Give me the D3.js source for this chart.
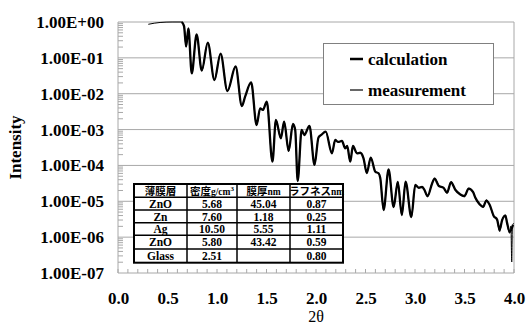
<!DOCTYPE html>
<html>
<head>
<meta charset="utf-8">
<script src="https://cdn.jsdelivr.net/npm/d3@7"></script>
<style>
  html, body { margin: 0; padding: 0; background: #fff; }
  svg { display: block; }
</style>
</head>
<body>
<div id="chart-container"></div>
<script>
// measured reflectivity (2θ in degrees, intensity)
const measTheta = [0.306, 0.425, 0.546, 0.647, 0.667, 0.688, 0.711, 0.745, 0.794, 0.846,
  0.907, 0.974, 1.036, 1.105, 1.188, 1.251, 1.284, 1.345, 1.400, 1.436,
  1.463, 1.503, 1.560, 1.595, 1.645, 1.678, 1.724, 1.767, 1.790, 1.815,
  1.855, 1.881, 1.934, 1.985, 2.025, 2.053, 2.098, 2.161, 2.194, 2.224,
  2.262, 2.295, 2.315, 2.346, 2.373, 2.414, 2.447, 2.480, 2.513, 2.553,
  2.599, 2.632, 2.649, 2.683, 2.733, 2.784, 2.826, 2.867, 2.905, 2.963,
  3.003, 3.036, 3.071, 3.094, 3.127, 3.172, 3.198, 3.239, 3.289, 3.324,
  3.364, 3.407, 3.458, 3.499, 3.542, 3.587, 3.610, 3.653, 3.688, 3.721,
  3.754, 3.795, 3.829, 3.855, 3.880, 3.913, 3.930, 3.956, 3.969, 3.977,
  3.984, 3.999];
const measIntensity = [0.863, 0.97, 1.0, 1.0, 0.77, 0.205, 0.667, 0.037, 0.448, 0.0444,
  0.265, 0.0241, 0.132, 0.0119, 0.0574, 0.00455, 0.00826, 0.0206, 0.00134, 0.00392,
  0.00352, 0.00599, 1.27e-4, 1.85e-3, 5.71e-4, 1.66e-3, 2.53e-4, 1.43e-3, 9.73e-4, 3.68e-5,
  9.73e-4, 7.06e-4, 1.26e-3, 1.03e-4, 6.01e-4, 7.06e-4, 8.73e-4, 2.18e-4, 5.12e-4, 4.51e-4,
  4.81e-4, 3.01e-4, 3.48e-4, 1.27e-4, 3.48e-4, 2.18e-4, 2.26e-4, 1.58e-4, 6.15e-5, 1.66e-4,
  6.68e-5, 6.04e-5, 4.47e-5, 5.72e-6, 7.71e-5, 6.93e-6, 3.45e-5, 4.15e-6, 3.52e-5, 3.65e-6,
  2.85e-5, 2.31e-5, 2.55e-5, 2.07e-5, 1.34e-5, 3.18e-5, 4.38e-5, 2.85e-5, 2.31e-5, 1.67e-5,
  3.52e-5, 2.07e-5, 1.50e-5, 1.34e-5, 2.31e-5, 1.85e-5, 1.21e-5, 7.89e-6, 6.80e-6, 1.09e-5,
  7.89e-6, 3.72e-6, 3.01e-6, 1.42e-6, 3.01e-6, 4.15e-6, 2.43e-6, 1.28e-6, 2.05e-6, 2.03e-7,
  2.05e-6, 2.48e-6];

// simulated curve
const calcTheta = [0.644, 0.667, 0.688, 0.711, 0.745, 0.794, 0.846,
  0.907, 0.974, 1.036, 1.105, 1.188, 1.251, 1.284, 1.345, 1.400, 1.436,
  1.463, 1.503, 1.560, 1.595, 1.645, 1.678, 1.724, 1.767, 1.790, 1.815,
  1.855, 1.881, 1.934, 1.985, 2.025, 2.053, 2.098, 2.161, 2.194, 2.224,
  2.262, 2.295, 2.315, 2.346, 2.373, 2.414, 2.447, 2.480, 2.513, 2.553,
  2.599, 2.632, 2.649, 2.683, 2.733, 2.784, 2.826, 2.867, 2.905, 2.963,
  3.003, 3.036, 3.071, 3.094, 3.127, 3.172, 3.198, 3.239, 3.289, 3.324,
  3.364, 3.407, 3.458, 3.499, 3.542, 3.587, 3.610, 3.653, 3.688, 3.721,
  3.754, 3.795, 3.829, 3.855, 3.880, 3.913, 3.930, 3.956, 3.990];
const calcIntensity = [1.0, 0.77, 0.205, 0.667, 0.037, 0.448, 0.0444,
  0.265, 0.0241, 0.132, 0.0119, 0.0574, 0.00455, 0.00826, 0.0206, 0.00134, 0.00392,
  0.00352, 0.00599, 1.27e-4, 1.85e-3, 5.71e-4, 1.66e-3, 2.53e-4, 1.43e-3, 9.73e-4, 3.68e-5,
  9.73e-4, 7.06e-4, 1.26e-3, 1.03e-4, 6.01e-4, 7.06e-4, 8.73e-4, 2.18e-4, 5.12e-4, 4.51e-4,
  4.81e-4, 3.01e-4, 3.48e-4, 1.27e-4, 3.48e-4, 2.18e-4, 2.26e-4, 1.58e-4, 6.15e-5, 1.66e-4,
  6.68e-5, 6.04e-5, 4.47e-5, 5.72e-6, 7.71e-5, 6.93e-6, 3.45e-5, 4.15e-6, 3.52e-5, 3.65e-6,
  2.85e-5, 2.40e-5, 2.50e-5, 2.10e-5, 1.40e-5, 3.10e-5, 4.30e-5, 2.70e-5, 2.35e-5, 1.75e-5,
  3.40e-5, 2.10e-5, 1.55e-5, 1.40e-5, 2.25e-5, 1.80e-5, 1.25e-5, 8.30e-6, 7.00e-6, 1.05e-5,
  8.00e-6, 3.90e-6, 3.10e-6, 1.60e-6, 3.00e-6, 4.00e-6, 2.50e-6, 1.40e-6, 2.20e-6];

const yTickValues = [1, 1e-1, 1e-2, 1e-3, 1e-4, 1e-5, 1e-6, 1e-7];
const xTickValues = [0, 0.5, 1, 1.5, 2, 2.5, 3, 3.5, 4];

// film parameters table
const tableHeader = ["薄膜層", "密度", "膜厚", "ラフネス"];
const layerNames = ["ZnO", "Zn", "Ag", "ZnO", "Glass"];
const densities = ["5.68", "7.60", "10.50", "5.80", "2.51"];
const thicknesses = ["45.04", "1.18", "5.55", "43.42", ""];
const roughnesses = ["0.87", "0.25", "1.11", "0.59", "0.80"];

const legendLabels = ["calculation", "measurement"];

function drawChart() {
  const W = 526, H = 325;
  const left = 118, right = 514, top = 22, bottom = 273;
  const serif = "'Liberation Serif','Times New Roman',serif";
  const grid = "#a8a8a8";

  const svg = d3.select("#chart-container").append("svg")
    .attr("width", W).attr("height", H);

  const x = d3.scaleLinear().domain([0, 4]).range([left, right]);
  const y = d3.scaleLog().domain([1e-7, 1]).range([bottom, top]);

  // horizontal gridlines
  svg.append("g").selectAll("line").data(yTickValues).join("line")
    .attr("x1", left).attr("x2", right)
    .attr("y1", (d) => y(d)).attr("y2", (d) => y(d))
    .attr("stroke", grid).attr("stroke-width", 1);

  // frame: left, right
  svg.append("line").attr("x1", left).attr("x2", left).attr("y1", top).attr("y2", bottom)
    .attr("stroke", grid);
  svg.append("line").attr("x1", right).attr("x2", right).attr("y1", top).attr("y2", bottom)
    .attr("stroke", grid);

  // minor log ticks inside the left axis
  const minor = [];
  for (let e = -7; e < 0; e++) for (let m = 2; m <= 9; m++) minor.push(m * Math.pow(10, e));
  svg.append("g").selectAll("line").data(minor).join("line")
    .attr("x1", left).attr("x2", left + 5)
    .attr("y1", (d) => y(d)).attr("y2", (d) => y(d))
    .attr("stroke", grid);

  // x ticks every 0.1, pointing up
  const xMinor = d3.range(0, 41).map((i) => i / 10);
  svg.append("g").selectAll("line").data(xMinor).join("line")
    .attr("x1", (d) => x(d)).attr("x2", (d) => x(d))
    .attr("y1", bottom).attr("y2", bottom - 4)
    .attr("stroke", grid);

  // y axis labels
  const yAxis = svg.append("g")
    .attr("transform", `translate(${left - 14},0)`)
    .call(d3.axisLeft(y).tickValues(yTickValues).tickSize(0).tickPadding(0)
      .tickFormat((d) => {
        const e = Math.round(Math.log10(d));
        return "1.00E" + (e < 0 ? "-" : "+") + String(Math.abs(e)).padStart(2, "0");
      }));
  yAxis.select(".domain").remove();
  yAxis.selectAll("text")
    .style("font-family", serif).style("font-size", "17px").style("font-weight", "bold")
    .attr("fill", "#000");

  // x axis labels
  const xAxis = svg.append("g")
    .attr("transform", `translate(0,${bottom + 19})`)
    .call(d3.axisBottom(x).tickValues(xTickValues).tickSize(0).tickPadding(0)
      .tickFormat(d3.format(".1f")));
  xAxis.select(".domain").remove();
  xAxis.selectAll("text")
    .style("font-family", serif).style("font-size", "17px").style("font-weight", "bold")
    .attr("fill", "#000");

  // axis titles
  svg.append("text")
    .attr("transform", `translate(21,${(top + bottom) / 2}) rotate(-90)`)
    .attr("text-anchor", "middle")
    .style("font-family", serif).style("font-size", "17px").style("font-weight", "bold")
    .text("Intensity");
  svg.append("text")
    .attr("x", (left + right) / 2).attr("y", 322)
    .attr("text-anchor", "middle")
    .style("font-family", serif).style("font-size", "16px")
    .text("2θ");

  // curves
  const line = d3.line().x((d) => x(d[0])).y((d) => y(d[1])).curve(d3.curveMonotoneX);
  svg.append("path")
    .datum(calcTheta.map((t, i) => [t, calcIntensity[i]]))
    .attr("fill", "none").attr("stroke", "#000").attr("stroke-width", 2.3)
    .attr("stroke-linejoin", "round")
    .attr("d", line);
  svg.append("path")
    .datum(measTheta.map((t, i) => [t, measIntensity[i]]))
    .attr("fill", "none").attr("stroke", "#000").attr("stroke-width", 1)
    .attr("d", line);

  // legend
  const lg = svg.append("g");
  lg.append("rect").attr("x", 323.5).attr("y", 43.5).attr("width", 170).attr("height", 61)
    .attr("fill", "#fff").attr("stroke", "#808080");
  legendLabels.forEach((lab, i) => {
    const yy = i === 0 ? 65 : 96;
    lg.append("line").attr("x1", 350).attr("x2", 363).attr("y1", yy - 6).attr("y2", yy - 6)
      .attr("stroke", "#000").attr("stroke-width", i === 0 ? 2.5 : 1.2);
    lg.append("text").attr("x", 368).attr("y", yy)
      .style("font-family", serif).style("font-size", "17px").style("font-weight", "bold")
      .text(lab);
  });

  // parameter table
  const colX = [134, 187, 237, 290, 343];
  const rowY = [184, 197.3, 210, 222.7, 235.3, 249, 262.7];
  const tg = svg.append("g");
  tg.append("rect").attr("x", colX[0]).attr("y", rowY[0])
    .attr("width", colX[4] - colX[0]).attr("height", rowY[6] - rowY[0])
    .attr("fill", "#fff").attr("stroke", "#000").attr("stroke-width", 2);
  colX.slice(1, 4).forEach((cx) => tg.append("line")
    .attr("x1", cx).attr("x2", cx).attr("y1", rowY[0]).attr("y2", rowY[6])
    .attr("stroke", "#000").attr("stroke-width", 1.5));
  rowY.slice(1, 6).forEach((ry) => tg.append("line")
    .attr("x1", colX[0]).attr("x2", colX[4]).attr("y1", ry).attr("y2", ry)
    .attr("stroke", "#000").attr("stroke-width", 1.5));

  const cjk = "'Liberation Serif','Noto Sans CJK JP',serif";
  const units = ["", "g/cm", "nm", "nm"];
  tableHeader.forEach((h, c) => {
    const t = tg.append("text")
      .attr("x", (colX[c] + colX[c + 1]) / 2).attr("y", rowY[0] + 10.5)
      .attr("text-anchor", "middle")
      .style("font-family", cjk).style("font-size", "10.5px").style("font-weight", "bold");
    t.append("tspan").text(h);
    if (units[c]) t.append("tspan").style("font-size", "9.5px").text(units[c]);
    if (c === 1) t.append("tspan").attr("dy", -4).style("font-size", "7px").text("3");
  });

  const columns = [layerNames, densities, thicknesses, roughnesses];
  columns.forEach((col, c) => {
    col.forEach((v, r) => {
      tg.append("text")
        .attr("x", (colX[c] + colX[c + 1]) / 2).attr("y", rowY[r + 1] + 10.5)
        .attr("text-anchor", "middle")
        .style("font-family", serif).style("font-size", "11.5px").style("font-weight", "bold")
        .text(v);
    });
  });
}

drawChart();
</script>
</body>
</html>
